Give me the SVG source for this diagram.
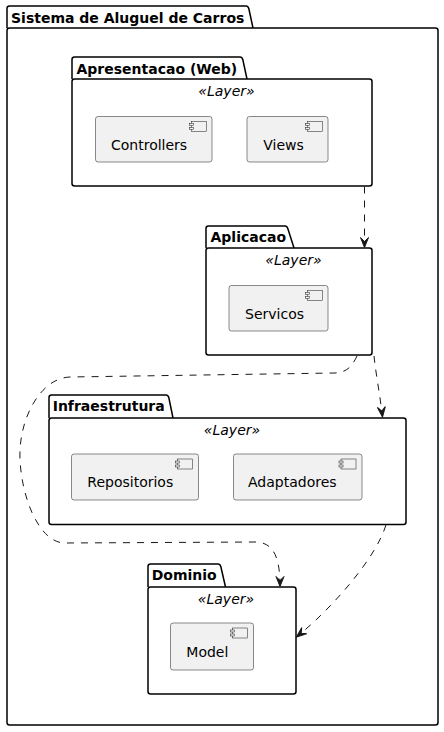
<svg xmlns="http://www.w3.org/2000/svg" width="444" height="732" viewBox="0 0 444 732">
<style>
.pkg{fill:#FFFFFF;stroke:#000000;stroke-width:1.5}
.tab{fill:#FFFFFF;stroke:#000000;stroke-width:1.5;stroke-linejoin:round}
.ptitle{font-family:"DejaVu Sans",sans-serif;font-size:14px;font-weight:bold;fill:#000000}
.stereo{font-family:"DejaVu Sans",sans-serif;font-size:14px;font-style:italic;fill:#000000;text-anchor:middle}
.comp{fill:#F1F1F1;stroke:#181818;stroke-width:0.5}
.ico{fill:#F1F1F1;stroke:#181818;stroke-width:0.5}
.ctext{font-family:"DejaVu Sans",sans-serif;font-size:14px;fill:#000000}
.dep{fill:none;stroke:#181818;stroke-width:1;stroke-dasharray:7,7}
</style>
<defs>
<marker id="arr" markerUnits="userSpaceOnUse" orient="auto" viewBox="-11 -5 12 10" refX="0" refY="0" markerWidth="12" markerHeight="10" overflow="visible">
<path d="M0,0 L-10,-4 L-6,0 L-10,4 Z" fill="#181818" stroke="#181818" stroke-width="1" stroke-linejoin="miter"/>
</marker>
</defs>

<g id="sistema">
<path class="tab" d="M7,28 L7,8.5 Q7,6 9.5,6 L246,6 Q248,6 248.8,8.5 L253,28"/>
<rect class="pkg" x="7" y="28" width="431" height="697" rx="2.5"/>
<text class="ptitle" x="11" y="22.5">Sistema de Aluguel de Carros</text>
</g>

<g id="apresentacao">
<path class="tab" d="M72,79 L72,59.5 Q72,57 74.5,57 L240,57 Q242,57 242.8,59.5 L247,79"/>
<rect class="pkg" x="72" y="79" width="300" height="107" rx="2.5"/>
<text class="ptitle" x="76.5" y="73.5">Apresentacao (Web)</text>
<text class="stereo" x="226.5" y="96">«Layer»</text>
<g id="controllers">
<rect class="comp" x="95.5" y="116.5" width="116.5" height="45.5" rx="2.5"/>
<rect class="ico" x="191.5" y="121.5" width="15" height="10"/>
<rect class="ico" x="189.5" y="123.5" width="4" height="2"/>
<rect class="ico" x="189.5" y="127.5" width="4" height="2"/>
<text class="ctext" x="111" y="149.5">Controllers</text>
</g>
<g id="views">
<rect class="comp" x="247" y="116.5" width="81" height="45.5" rx="2.5"/>
<rect class="ico" x="307.5" y="121.5" width="15" height="10"/>
<rect class="ico" x="305.5" y="123.5" width="4" height="2"/>
<rect class="ico" x="305.5" y="127.5" width="4" height="2"/>
<text class="ctext" x="263.3" y="149.5">Views</text>
</g>
</g>

<g id="aplicacao">
<path class="tab" d="M206,248 L206,228.5 Q206,226 208.5,226 L285,226 Q287,226 287.8,228.5 L294,248"/>
<rect class="pkg" x="206" y="248" width="166" height="107" rx="2.5"/>
<text class="ptitle" x="210.5" y="241.5">Aplicacao</text>
<text class="stereo" x="293.5" y="265">«Layer»</text>
<g id="servicos">
<rect class="comp" x="229" y="285.5" width="99" height="45.5" rx="2.5"/>
<rect class="ico" x="307.5" y="290.5" width="15" height="10"/>
<rect class="ico" x="305.5" y="292.5" width="4" height="2"/>
<rect class="ico" x="305.5" y="296.5" width="4" height="2"/>
<text class="ctext" x="245" y="318.5">Servicos</text>
</g>
</g>

<g id="infraestrutura">
<path class="tab" d="M49,418 L49,397.5 Q49,395 51.5,395 L166,395 Q168,395 168.8,397.5 L173,418"/>
<rect class="pkg" x="49" y="418" width="357" height="106.5" rx="2.5"/>
<text class="ptitle" x="52.7" y="411">Infraestrutura</text>
<text class="stereo" x="232" y="435">«Layer»</text>
<g id="repositorios">
<rect class="comp" x="71.5" y="454" width="127" height="46" rx="2.5"/>
<rect class="ico" x="177.5" y="459" width="15" height="10"/>
<rect class="ico" x="175.5" y="461" width="4" height="2"/>
<rect class="ico" x="175.5" y="465" width="4" height="2"/>
<text class="ctext" x="87.3" y="487">Repositorios</text>
</g>
<g id="adaptadores">
<rect class="comp" x="233.5" y="454" width="128.5" height="46" rx="2.5"/>
<rect class="ico" x="341" y="459" width="15" height="10"/>
<rect class="ico" x="339" y="461" width="4" height="2"/>
<rect class="ico" x="339" y="465" width="4" height="2"/>
<text class="ctext" x="248" y="487">Adaptadores</text>
</g>
</g>

<g id="dominio">
<path class="tab" d="M148,587 L148,566.5 Q148,564 150.5,564 L218,564 Q220,564 220.8,566.5 L225.5,587"/>
<rect class="pkg" x="148" y="587" width="148" height="107" rx="2.5"/>
<text class="ptitle" x="151.7" y="580">Dominio</text>
<text class="stereo" x="226" y="604">«Layer»</text>
<g id="model">
<rect class="comp" x="170.5" y="623" width="83" height="47" rx="2.5"/>
<rect class="ico" x="232.5" y="628" width="15" height="10"/>
<rect class="ico" x="230.5" y="630" width="4" height="2"/>
<rect class="ico" x="230.5" y="634" width="4" height="2"/>
<text class="ctext" x="186.3" y="657">Model</text>
</g>
</g>

<g id="connectors">
<path class="dep" d="M364.5,186.5 L364.5,247.5" marker-end="url(#arr)"/>
<path class="dep" d="M374,356 C376,375 380,395 382.5,417" marker-end="url(#arr)"/>
<path class="dep" d="M357,356 C352,366 348,372 335,373 L70,377 C40,378 18,420 20,460 C22,500 40,543 65,543 L255,542 C275,542 280,560 280,586.5" marker-end="url(#arr)"/>
<path class="dep" d="M386,525 C375,560 330,610 296.5,637" marker-end="url(#arr)"/>
</g>
</svg>
